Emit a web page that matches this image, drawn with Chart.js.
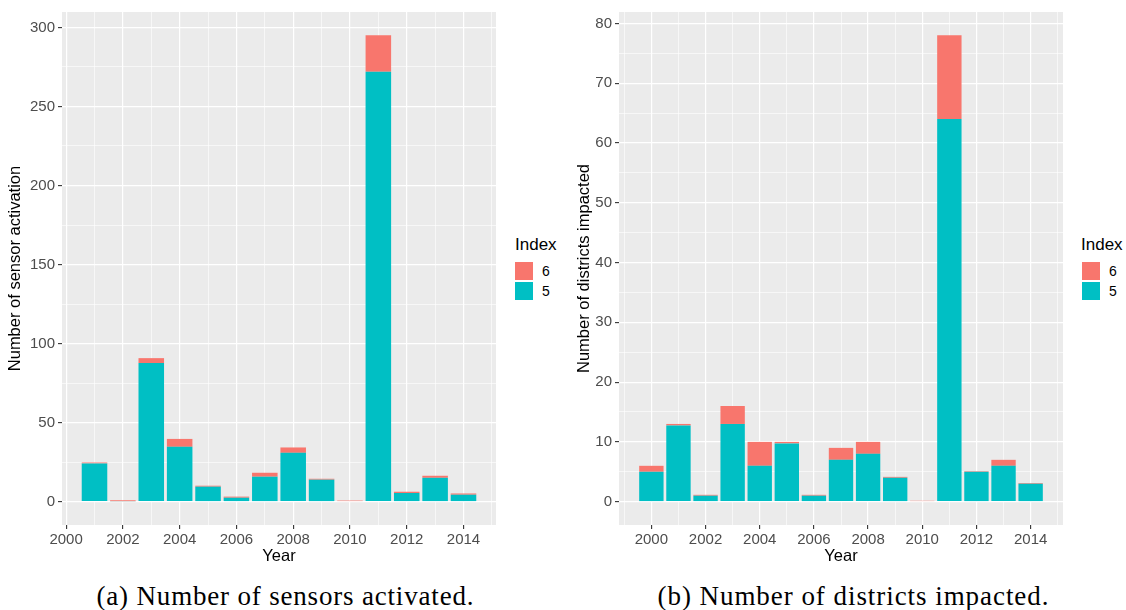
<!DOCTYPE html>
<html>
<head>
<meta charset="utf-8">
<script src="https://cdn.jsdelivr.net/npm/chart.js@4.4.1/dist/chart.umd.min.js"></script>
<style>
  html, body { margin: 0; padding: 0; background: #fff; width: 1126px; height: 610px; overflow: hidden; }
  canvas { position: absolute; display: block; }
  .legend-title, .legend-label { position: absolute; font-family: "Liberation Sans", Arial, sans-serif; color: #000; white-space: nowrap; line-height: 20px; }
  .legend-title { font-size: 17px; }
  .legend-label { font-size: 14px; }
  .key { position: absolute; width: 18px; height: 18px; }
  .caption { position: absolute; font-family: "Liberation Serif", "Times New Roman", serif; font-size: 27px; line-height: 30px; color: #000; white-space: nowrap; }
</style>
</head>
<body>
<canvas id="sensors" width="496" height="570" style="left:0;top:0;"></canvas>
<canvas id="districts" width="503" height="570" style="left:560px;top:0;"></canvas>

<div class="legend-title" style="left:515px;top:235px;">Index</div>
<div class="key" style="left:515px;top:262px;background:#F8766D;"></div>
<div class="key" style="left:515px;top:282px;background:#00BFC4;"></div>
<div class="legend-label" style="left:542px;top:261px;">6</div>
<div class="legend-label" style="left:542px;top:281px;">5</div>

<div class="legend-title" style="left:1081px;top:235px;">Index</div>
<div class="key" style="left:1082px;top:262px;background:#F8766D;"></div>
<div class="key" style="left:1082px;top:282px;background:#00BFC4;"></div>
<div class="legend-label" style="left:1109px;top:261px;">6</div>
<div class="legend-label" style="left:1109px;top:281px;">5</div>

<div class="caption" id="capA" data-center="285" data-width="377" style="top:581px;">(a) Number of sensors activated.</div>
<div class="caption" id="capB" data-center="853" data-width="391" style="top:581px;">(b) Number of districts impacted.</div>

<script>
// ---- (a) sensor activations per year, split by index ----
const sensorYears = [2001, 2002, 2003, 2004, 2005, 2006, 2007, 2008, 2009, 2010, 2011, 2012, 2013, 2014];
const sensorsIndex5 = [24.2, 0.3, 87.7, 34.7, 9.5, 2.5, 15.8, 30.9, 13.9, 0, 272, 5.5, 15.1, 4.4];
const sensorsIndex6 = [0.6, 0.6, 3.1, 5.0, 0.6, 0.7, 2.5, 3.4, 0.6, 0.7, 23, 0.8, 1.3, 0.8];

// ---- (b) districts impacted per year, split by index ----
const districtYears = [2000, 2001, 2002, 2003, 2004, 2005, 2006, 2007, 2008, 2009, 2010, 2011, 2012, 2013, 2014];
const districtsIndex5 = [5, 12.75, 1, 13, 6, 9.75, 1, 7, 8, 4, 0, 64, 5, 6, 3];
const districtsIndex6 = [1, 0.25, 0.15, 3, 4, 0.25, 0.15, 2, 2, 0.15, 0.15, 14, 0.1, 1, 0.12];

// ---- axis breaks ----
const sensorYMajor = [0, 50, 100, 150, 200, 250, 300];
const sensorYMinor = [25, 75, 125, 175, 225, 275];
const sensorXMajor = [2000, 2002, 2004, 2006, 2008, 2010, 2012, 2014];
const sensorXMinor = [2001, 2003, 2005, 2007, 2009, 2011, 2013, 2015];

const districtYMajor = [0, 10, 20, 30, 40, 50, 60, 70, 80];
const districtYMinor = [5, 15, 25, 35, 45, 55, 65, 75];
const districtXMajor = [2000, 2002, 2004, 2006, 2008, 2010, 2012, 2014];
const districtXMinor = [1999, 2001, 2003, 2005, 2007, 2009, 2011, 2013, 2015];

const COLOR_5 = '#00BFC4';
const COLOR_6 = '#F8766D';
const PANEL_BG = '#EBEBEB';
const SANS = '"Liberation Sans", Arial, sans-serif';

// grey panel behind the grid
const panelBackground = {
  id: 'panelBackground',
  beforeDraw(chart) {
    const { ctx, chartArea: a } = chart;
    ctx.save();
    ctx.fillStyle = PANEL_BG;
    ctx.fillRect(a.left, a.top, a.right - a.left, a.bottom - a.top);
    ctx.restore();
  }
};

function axisOptions(major, minor, isX, title, titlePad, min, max, axisSize) {
  const majorSet = new Set(major);
  const all = major.concat(minor).sort((a, b) => a - b);
  return {
    type: 'linear',
    stacked: true,
    offset: false,
    min: min,
    max: max,
    afterBuildTicks: (s) => { s.ticks = all.map(v => ({ value: v })); },
    afterFit: (s) => { if (isX) { s.height = axisSize; } else { s.width = axisSize; } },
    border: { display: false },
    grid: {
      offset: false,
      color: '#FFFFFF',
      lineWidth: (c) => (c.tick && majorSet.has(c.tick.value)) ? 1.2 : 0.6,
      drawTicks: true,
      tickLength: 4,
      tickWidth: 1.1,
      tickColor: (c) => (c.tick && majorSet.has(c.tick.value)) ? '#333333' : 'rgba(0,0,0,0)'
    },
    ticks: {
      autoSkip: false,
      maxRotation: 0,
      minRotation: 0,
      padding: isX ? 2 : 3,
      color: '#4D4D4D',
      font: { family: SANS, size: 15 },
      callback: (v) => majorSet.has(v) ? String(v) : ''
    },
    title: {
      display: true,
      text: title,
      color: '#000000',
      font: { family: SANS, size: 16.5 },
      padding: titlePad
    }
  };
}

function buildChart(id, years, idx5, idx6, yMajor, yMinor, xMajor, xMinor, yTitle, yTitlePad, yAxisWidth) {
  const totals = years.map((_, i) => idx5[i] + idx6[i]);
  const yMax = Math.max(...totals);
  const yPad = yMax * 0.05;
  const xLo = Math.min(...years) - 0.45;
  const xHi = Math.max(...years) + 0.45;
  const xPad = (xHi - xLo) * 0.05;

  return new Chart(document.getElementById(id), {
    type: 'bar',
    data: {
      datasets: [
        { label: '5', data: years.map((y, i) => ({ x: y, y: idx5[i] })), backgroundColor: COLOR_5, borderWidth: 0, stack: 's' },
        { label: '6', data: years.map((y, i) => ({ x: y, y: idx6[i] })), backgroundColor: COLOR_6, borderWidth: 0, stack: 's' }
      ]
    },
    options: {
      responsive: false,
      animation: false,
      devicePixelRatio: 1,
      layout: { padding: { top: 11, left: 0, right: 0, bottom: 0 } },
      datasets: { bar: { categoryPercentage: 1.0, barPercentage: 0.9 } },
      plugins: { legend: { display: false }, tooltip: { enabled: false } },
      scales: {
        x: axisOptions(xMajor, xMinor, true, 'Year', { top: 0, bottom: 4 }, xLo - xPad, xHi + xPad, 45),
        y: axisOptions(yMajor, yMinor, false, yTitle, { top: yTitlePad, bottom: 0 }, -yPad, yMax + yPad, yAxisWidth)
      }
    },
    plugins: [panelBackground]
  });
}

buildChart('sensors', sensorYears, sensorsIndex5, sensorsIndex6,
  sensorYMajor, sensorYMinor, sensorXMajor, sensorXMinor,
  'Number of sensor activation', 6, 62);

buildChart('districts', districtYears, districtsIndex5, districtsIndex6,
  districtYMajor, districtYMinor, districtXMajor, districtXMinor,
  'Number of districts impacted', 14.6, 59);

// spread the captions to their set width and centre them
(function () {
  const m = document.createElement('canvas').getContext('2d');
  document.querySelectorAll('.caption').forEach(el => {
    const cs = getComputedStyle(el);
    m.font = cs.fontSize + ' ' + cs.fontFamily;
    const text = el.textContent;
    const w = m.measureText(text).width;
    const target = parseFloat(el.dataset.width);
    const spacing = (target - w) / (text.length - 1);
    el.style.letterSpacing = spacing + 'px';
    el.style.left = (parseFloat(el.dataset.center) - target / 2) + 'px';
  });
})();
</script>
</body>
</html>
